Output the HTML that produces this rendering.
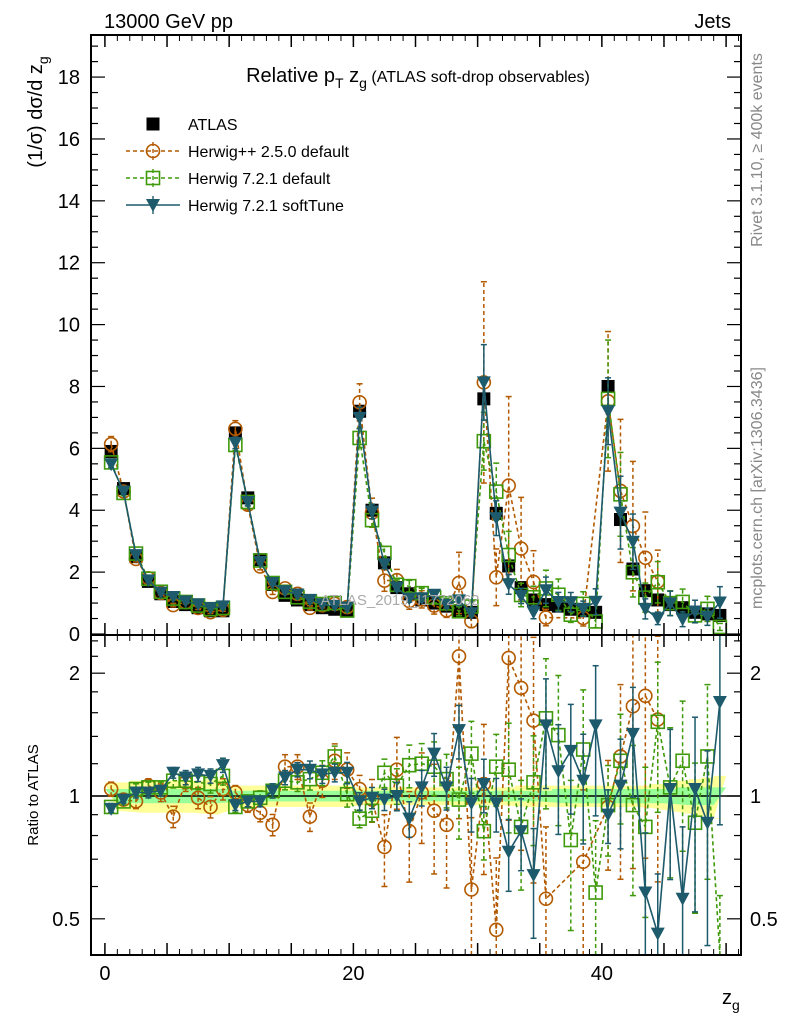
<!DOCTYPE html>
<html><head><meta charset="utf-8"><style>
html,body{margin:0;padding:0;background:#fff;overflow:hidden;width:786px;height:1024px;}
svg{display:block;font-family:"Liberation Sans","DejaVu Sans",sans-serif;}
</style></head><body>
<svg id="c" width="786" height="1024" viewBox="0 0 786 1024">
<defs>
<clipPath id="cm"><rect x="91" y="36" width="650" height="599"/></clipPath>
<clipPath id="cr"><rect x="91" y="636" width="650" height="319"/></clipPath>
</defs>
<rect x="0" y="0" width="786" height="1024" fill="#fff"/>
<g id="bands" clip-path="url(#cr)"></g>
<g id="marks"></g>
<g id="axes"></g>
<text x="104" y="28" font-size="20">13000 GeV pp</text>
<text x="731" y="28" font-size="20" text-anchor="end">Jets</text>
<text x="418" y="82" font-size="20" text-anchor="middle">Relative p<tspan font-size="14" dy="6">T</tspan><tspan dy="-6"> z</tspan><tspan font-size="14" dy="6">g</tspan><tspan dy="-6" font-size="16"> (ATLAS soft-drop observables)</tspan></text>
<text x="400" y="605" font-size="15" fill="#aaa" text-anchor="middle">ATLAS_2019_I1772062</text>
<text transform="translate(762,150) rotate(-90)" font-size="16" fill="#888" text-anchor="middle">Rivet 3.1.10, ≥ 400k events</text>
<text transform="translate(762,488) rotate(-90)" font-size="16" fill="#888" text-anchor="middle">mcplots.cern.ch [arXiv:1306.3436]</text>
<text transform="translate(42,112) rotate(-90)" font-size="20" text-anchor="middle">(1/σ) dσ/d z<tspan font-size="14" dy="6">g</tspan></text>
<text transform="translate(38,795) rotate(-90)" font-size="15" text-anchor="middle">Ratio to ATLAS</text>
<text x="722" y="1004" font-size="20">z<tspan font-size="14" dy="6">g</tspan></text>
<g id="legend"></g>
</svg>
<script>
const bins = Array.from({length:50},(_,i)=>i);
const atlas = [5.9,4.7,2.5,1.7,1.3,1.05,0.95,0.85,0.75,0.75,
6.5,4.4,2.4,1.6,1.25,1.1,0.95,0.85,0.8,0.75,
7.2,4.0,2.3,1.5,1.3,1.1,1.0,0.9,0.75,0.7,
7.6,3.9,2.2,1.5,1.1,0.95,0.9,0.8,0.75,0.7,
8.0,3.7,2.1,1.4,1.1,0.95,0.85,0.7,0.65,0.6];
const bandInner = [0.04,0.04,0.04,0.04,0.04,0.04,0.04,0.04,0.04,0.04,0.03,0.03,0.03,0.03,0.03,0.03,0.03,0.03,0.03,0.03,0.03,0.03,0.03,0.03,0.03,0.03,0.03,0.03,0.03,0.03,0.03,0.03,0.03,0.03,0.03,0.03,0.04,0.04,0.04,0.04,0.04,0.04,0.04,0.04,0.04,0.04,0.05,0.05,0.05,0.05];
const bandOuter = [0.08,0.08,0.09,0.09,0.09,0.09,0.09,0.09,0.1,0.1,0.06,0.06,0.06,0.06,0.06,0.06,0.06,0.06,0.06,0.06,0.05,0.05,0.05,0.05,0.05,0.05,0.05,0.05,0.05,0.05,0.05,0.05,0.05,0.06,0.06,0.06,0.06,0.06,0.06,0.06,0.06,0.06,0.06,0.06,0.07,0.08,0.09,0.1,0.11,0.12];
const ratioHpp = [1.04,0.98,0.97,1.06,1.02,0.89,1.08,0.99,0.94,1.04,
1.02,0.95,0.91,0.85,1.18,1.18,0.89,1.09,1.22,1.16,
1.04,0.98,0.75,1.16,0.82,1.02,0.92,0.85,2.2,0.59,
1.07,0.47,2.18,1.84,1.53,0.56,null,null,0.69,null,
0.94,1.25,1.66,1.76,1.54,null,null,null,null,null];
const errHpp = [0.04,0.03,0.04,0.04,0.05,0.06,0.05,0.06,0.06,0.06,
0.04,0.04,0.05,0.06,0.07,0.07,0.08,0.09,0.1,0.1,
0.08,0.12,0.2,0.2,0.25,0.25,0.3,0.3,0.6,0.5,
0.4,0.5,0.6,0.6,0.6,0.5,0.5,0.5,0.5,0.5,
0.3,0.5,0.6,0.6,0.6,0.6,0.6,0.6,0.6,0.6];
const ratioH721 = [0.94,0.97,1.04,1.05,1.05,1.09,1.09,1.08,1.07,1.12,
0.94,0.97,0.99,1.03,1.09,1.08,1.1,1.14,1.25,1.01,
0.88,0.92,1.14,1.06,1.19,1.2,1.18,1.1,0.98,1.27,
0.82,1.18,1.16,0.84,1.08,1.55,1.41,0.78,1.3,0.58,
0.95,1.22,0.95,0.84,1.52,1.05,1.22,0.86,1.25,0.38];
const errH721 = [0.02,0.02,0.03,0.03,0.03,0.04,0.04,0.04,0.05,0.05,
0.03,0.03,0.04,0.04,0.05,0.05,0.06,0.07,0.06,0.07,
0.05,0.06,0.08,0.1,0.12,0.12,0.15,0.15,0.2,0.2,
0.15,0.2,0.3,0.3,0.3,0.4,0.4,0.4,0.4,0.5,
0.25,0.3,0.4,0.4,0.4,0.4,0.4,0.4,0.5,0.5];
const ratioSoft = [0.93,0.98,1.02,1.02,1.03,1.14,1.11,1.13,1.12,1.19,
0.95,0.97,0.97,1.03,1.11,1.16,1.16,1.13,1.14,1.14,
0.97,0.99,0.98,1.0,0.88,1.05,1.27,1.05,1.45,0.96,
1.07,0.96,0.73,0.82,0.64,1.49,1.15,1.29,1.09,1.49,
0.9,1.06,1.42,0.58,0.46,1.04,0.56,1.04,0.86,1.7];
const errSoft = [0.02,0.02,0.03,0.03,0.03,0.03,0.04,0.04,0.04,0.04,
0.03,0.03,0.03,0.04,0.04,0.04,0.05,0.05,0.05,0.06,
0.05,0.06,0.06,0.08,0.1,0.1,0.12,0.12,0.15,0.15,
0.15,0.15,0.2,0.2,0.3,0.3,0.3,0.3,0.3,0.4,
0.15,0.3,0.3,0.4,0.4,0.4,0.5,0.5,0.5,0.5];
const xTicks = [0,20,40];
const yTicks = [0,2,4,6,8,10,12,14,16,18];
const rTicks = [0.5,1,2];

const NS='http://www.w3.org/2000/svg';
const X0=-1.12, X1=51.2, PL=91, PR=741;
const xs = v => PL + (v-X0)/(X1-X0)*(PR-PL);
const ys = v => 634 - v*30.94;
const yr = v => 796 - Math.log10(v)*408;
const clampM = y => Math.min(635, Math.max(35, y));
const clampR = y => Math.min(955, Math.max(635, y));
function mk(tag,attrs,parent){const e=document.createElementNS(NS,tag);for(const k in attrs)e.setAttribute(k,attrs[k]);parent.appendChild(e);return e;}
const marks=document.getElementById('marks'), axes=document.getElementById('axes'), bands=document.getElementById('bands');

let up=[],dn=[],ui=[],di=[];
bins.forEach(i=>{const a=xs(i),b=xs(i+1);
 up.push(a+','+yr(1+bandOuter[i]),b+','+yr(1+bandOuter[i])); dn.unshift(a+','+yr(1-bandOuter[i]),b+','+yr(1-bandOuter[i]));
 ui.push(a+','+yr(1+bandInner[i]),b+','+yr(1+bandInner[i])); di.unshift(a+','+yr(1-bandInner[i]),b+','+yr(1-bandInner[i]));});
let p=mk('polygon',{points:up.concat(dn).join(' '),fill:'#ffff99'},bands);


p=mk('polygon',{points:ui.concat(di).join(' '),fill:'#99ff99'},bands);


mk('line',{x1:PL,x2:PR,y1:yr(1),y2:yr(1),stroke:'#000','stroke-width':1.5},bands);

const series=[
 {name:'herwigpp-250',ratio:ratioHpp,err:errHpp,col:'#b35a00',dash:'4,3',marker:'circle'},
 {name:'herwig-721-default',ratio:ratioH721,err:errH721,col:'#3f9a0a',dash:'4,3',marker:'square'},
 {name:'herwig-721-softtune',ratio:ratioSoft,err:errSoft,col:'#1d5a6b',dash:'',marker:'tri'}];

function marker(g,type,cx,cy,col){
 if(type==='circle') mk('circle',{cx,cy,r:6.5,fill:'none',stroke:col,'stroke-width':1.6},g);
 else if(type==='square') mk('rect',{x:cx-6.5,y:cy-6.5,width:13,height:13,fill:'none',stroke:col,'stroke-width':1.6},g);
 else if(type==='tri') mk('polygon',{points:`${cx-7},${cy-6} ${cx+7},${cy-6} ${cx},${cy+7}`,fill:col},g);
 else mk('rect',{x:cx-6.5,y:cy-6.5,width:13,height:13,fill:'#000'},g);
}

const gm=mk('g',{'clip-path':'url(#cm)'},marks);


const gr=mk('g',{'clip-path':'url(#cr)'},marks);


const ga=mk('g',{},gm);


bins.forEach(i=>{const cx=xs(i+0.5);marker(ga,'data',cx,ys(atlas[i]),'#000');});
series.forEach(s=>{
 [[gm,'main'],[gr,'ratio']].forEach(([par,kind])=>{
  const g=mk('g',{},par);
  
  
  const cl = kind==='main'?clampM:clampR;
  let pts=[];
  bins.forEach(i=>{const r=s.ratio[i]; if(r===null) return;
   const cx=xs(i+0.5); let cy,lo,hi;
   if(kind==='main'){const v=atlas[i]*r; cy=ys(v); lo=ys(v*(1-s.err[i])); hi=ys(v*(1+s.err[i]));}
   else {cy=yr(r); lo=yr(Math.max(0.05,r*(1-s.err[i]))); hi=yr(r*(1+s.err[i]));}
   lo=cl(lo); hi=cl(hi); cy=cl(cy);
   pts.push(cx+','+cy);
   mk('line',{x1:cx,x2:cx,y1:lo,y2:hi,stroke:s.col,'stroke-width':1.5,'stroke-dasharray':s.dash},g);
   mk('line',{x1:cx-3,x2:cx+3,y1:lo,y2:lo,stroke:s.col,'stroke-width':1.5},g);
   mk('line',{x1:cx-3,x2:cx+3,y1:hi,y2:hi,stroke:s.col,'stroke-width':1.5},g);
  });
  mk('polyline',{points:pts.join(' '),fill:'none',stroke:s.col,'stroke-width':1.6,'stroke-dasharray':s.dash},g);
  bins.forEach(i=>{const r=s.ratio[i]; if(r===null)return; const cx=xs(i+0.5);
   const cy=kind==='main'?ys(atlas[i]*r):yr(r); if(cy>955||cy<35) return; marker(g,s.marker,cx,cy,s.col);});
 });
});

mk('rect',{x:PL,y:35,width:PR-PL,height:600,fill:'none',stroke:'#000','stroke-width':2},axes);
mk('rect',{x:PL,y:635,width:PR-PL,height:320,fill:'none',stroke:'#000','stroke-width':2},axes);
for(let v=0;v<=50;v+=5){const x=xs(v);
 [[635,-12],[635,12],[955,-12],[35,12]].forEach(([y,l])=>mk('line',{x1:x,x2:x,y1:y,y2:y+l,stroke:'#000','stroke-width':1.5},axes));}
for(let v=0;v<=51;v+=1){const x=xs(v);
 [[635,-6],[635,6],[955,-6],[35,6]].forEach(([y,l])=>mk('line',{x1:x,x2:x,y1:y,y2:y+l,stroke:'#000','stroke-width':1},axes));}
xTicks.forEach(v=>{const t=mk('text',{x:xs(v),y:980,'font-size':20,'text-anchor':'middle'},axes);t.textContent=v;
 
 });
for(let v=0;v<=19;v+=0.5){const y=ys(v);const L=(v%2===0)?14:7;
 mk('line',{x1:PL,x2:PL+L,y1:y,y2:y,stroke:'#000','stroke-width':1.2},axes);
 mk('line',{x1:PR,x2:PR-L,y1:y,y2:y,stroke:'#000','stroke-width':1.2},axes);}
yTicks.forEach(v=>{const t=mk('text',{x:80,y:ys(v)+7,'font-size':20,'text-anchor':'end'},axes);t.textContent=v;
 
 });
[0.5,0.6,0.7,0.8,0.9,1,1.2,1.4,1.6,1.8,2,2.2,2.4].forEach(v=>{const y=yr(v);const L=rTicks.includes(v)?14:7;
 mk('line',{x1:PL,x2:PL+L,y1:y,y2:y,stroke:'#000','stroke-width':1.2},axes);
 mk('line',{x1:PR,x2:PR-L,y1:y,y2:y,stroke:'#000','stroke-width':1.2},axes);});
rTicks.forEach(v=>{let t=mk('text',{x:80,y:yr(v)+7,'font-size':20,'text-anchor':'end'},axes);t.textContent=v;
 
 
 t=mk('text',{x:750,y:yr(v)+7,'font-size':20},axes);t.textContent=v;
 
 });

const lg=document.getElementById('legend');
const entries=[['ATLAS','data','#000',''],['Herwig++ 2.5.0 default','circle','#b35a00','4,3'],['Herwig 7.2.1 default','square','#3f9a0a','4,3'],['Herwig 7.2.1 softTune','tri','#1d5a6b','']];
entries.forEach((e,k)=>{const y=124+k*27;const g=mk('g',{},lg);
 
 
 if(k>0){mk('line',{x1:126,x2:180,y1:y,y2:y,stroke:e[2],'stroke-width':1.6,'stroke-dasharray':e[3]},g);
  mk('line',{x1:153,x2:153,y1:y-9,y2:y+9,stroke:e[2],'stroke-width':1.4,'stroke-dasharray':e[3]},g);}
 marker(g,e[1],153,y,e[2]);
 const t=mk('text',{x:188,y:y+6,'font-size':16},g);t.textContent=e[0];});
</script>
</body></html>
